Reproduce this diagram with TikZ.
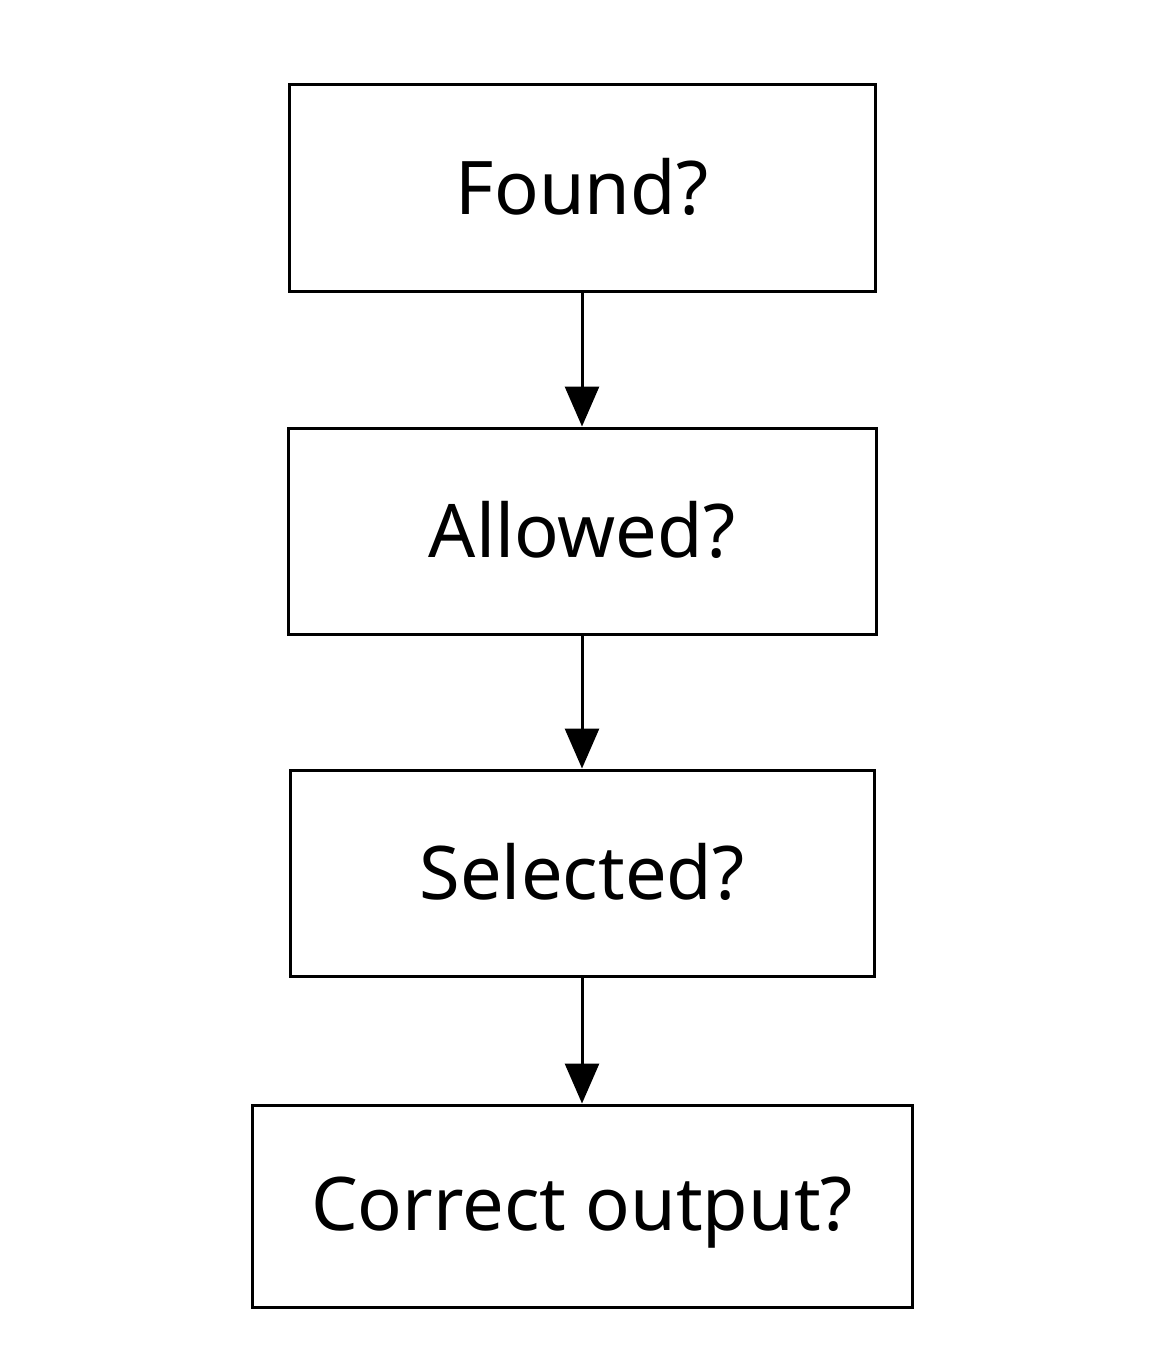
\documentclass[tikz,border=0pt]{standalone}
\usepackage{fontspec}
\setmainfont{Noto Sans}
\usetikzlibrary{arrows.meta}
\begin{document}
\begin{tikzpicture}[x=1pt,y=-1pt,
  box/.style={draw,line width=3pt,inner sep=0pt,font=\fontsize{74}{90}\selectfont},
  arr/.style={line width=3pt,-{Triangle[length=40pt,width=34pt]}}]
\useasboundingbox (0,0) rectangle (1164,1351);
\node[box,minimum width=586pt,minimum height=206pt,text depth=4pt] (a) at (582,188) {Found?};
\node[box,minimum width=588pt,minimum height=206pt,text depth=4pt] (b) at (582,531) {Allowed?};
\node[box,minimum width=584pt,minimum height=206pt,text depth=4pt] (c) at (582,873) {Selected?};
\node[box,minimum width=660pt,minimum height=202pt,text depth=4pt] (d) at (582,1206) {Correct output?};
\draw[arr] (a.south) -- (b.north);
\draw[arr] (b.south) -- (c.north);
\draw[arr] (c.south) -- (d.north);
\end{tikzpicture}
\end{document}
